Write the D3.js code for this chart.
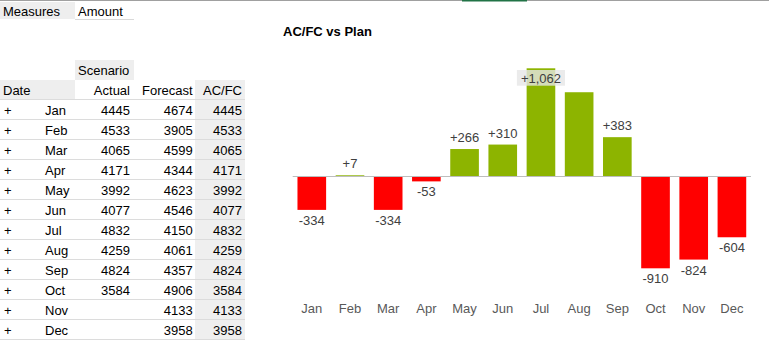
<!DOCTYPE html>
<html>
<head>
<meta charset="utf-8">
<script src="https://cdn.jsdelivr.net/npm/d3@7/dist/d3.min.js"></script>
<style>
  html, body { margin: 0; padding: 0; background: #fff; }
  svg { display: block; font-family: "Liberation Sans", Arial, sans-serif; }
</style>
</head>
<body>
<svg id="chart" width="769" height="345"></svg>
<script>
// ---- data ----
const months   = ["Jan","Feb","Mar","Apr","May","Jun","Jul","Aug","Sep","Oct","Nov","Dec"];
const actual   = [4445, 4533, 4065, 4171, 3992, 4077, 4832, 4259, 4824, 3584, null, null];
const forecast = [4674, 3905, 4599, 4344, 4623, 4546, 4150, 4061, 4357, 4906, 4133, 3958];
const acfc     = [4445, 4533, 4065, 4171, 3992, 4077, 4832, 4259, 4824, 3584, 4133, 3958];
const variance = [-334, 7, -334, -53, 266, 310, 1062, 826, 383, -910, -824, -604];
const hiddenLabels = ["Aug"];
const tableHeaders = ["Actual", "Forecast", "AC/FC"];
const chartTitle = "AC/FC vs Plan";

const svg = d3.select("#chart");

// ---- top border strip ----
svg.append("rect").attr("x", 0).attr("y", 0).attr("width", 769).attr("height", 1).attr("fill", "#a0a0a0");
svg.append("rect").attr("x", 462).attr("y", 0).attr("width", 65).attr("height", 1.5).attr("fill", "#217346");

// ---- table ----
const T = svg.append("g").attr("font-size", 13).attr("fill", "#000");
const rowH = 20, firstRowTop = 100;
const colRight = [130, 192.7, 242];

// backgrounds
T.append("rect").attr("x", 0).attr("y", 2).attr("width", 75).attr("height", 17).attr("fill", "#eeeeee");
T.append("rect").attr("x", 75).attr("y", 60).attr("width", 59).attr("height", 20).attr("fill", "#eeeeee");
T.append("rect").attr("x", 0).attr("y", 80).attr("width", 75).attr("height", 20).attr("fill", "#eeeeee");
T.append("rect").attr("x", 195).attr("y", 80).attr("width", 50).attr("height", rowH * months.length + 20).attr("fill", "#efefef");

T.append("line").attr("x1", 75).attr("x2", 134).attr("y1", 19.5).attr("y2", 19.5).attr("stroke", "#d9d9d9");

T.append("text").attr("x", 3).attr("y", 15.5).text("Measures");
T.append("text").attr("x", 78).attr("y", 15.5).text("Amount");
T.append("text").attr("x", 78).attr("y", 74.5).text("Scenario");
T.append("text").attr("x", 3).attr("y", 94.5).text("Date");
tableHeaders.forEach((h, i) => {
  T.append("text").attr("x", colRight[i]).attr("y", 94.5).attr("text-anchor", "end").text(h);
});

// row separators
d3.range(months.length + 1).forEach(i => {
  T.append("line")
    .attr("x1", 0).attr("x2", 245)
    .attr("y1", firstRowTop + i * rowH - 0.5).attr("y2", firstRowTop + i * rowH - 0.5)
    .attr("stroke", "#dcdcdc");
});

const rows = T.selectAll("g.row").data(months).join("g")
  .attr("class", "row")
  .attr("transform", (d, i) => `translate(0,${firstRowTop + i * rowH + 14.5})`);
rows.append("text").attr("x", 4).text("+");
rows.append("text").attr("x", 45).text(d => d);
[actual, forecast, acfc].forEach((arr, c) => {
  rows.append("text").attr("x", colRight[c]).attr("text-anchor", "end")
    .text((d, i) => arr[i] == null ? "" : arr[i]);
});

// ---- chart ----
svg.append("text").attr("x", 283).attr("y", 36)
  .attr("font-size", 13).attr("font-weight", "bold").attr("fill", "#000")
  .text(chartTitle);

const x = d3.scaleBand().domain(months).range([292.7, 751]).paddingInner(0.25).paddingOuter(0.125);
const y = d3.scaleLinear().domain([d3.min(variance), d3.max(variance)]).range([268.3, 68.3]);
const plotTop = y(d3.max(variance));
const fmt0 = d3.format("+,");
const fmt = v => fmt0(v).replace("\u2212", "-");

const data = months.map((m, i) => ({ m, v: variance[i] }));

svg.append("g").selectAll("rect").data(data).join("rect")
  .attr("x", d => x(d.m))
  .attr("width", x.bandwidth())
  .attr("y", d => y(Math.max(0, d.v)))
  .attr("height", d => Math.max(0.8, Math.abs(y(d.v) - y(0))))
  .attr("fill", d => d.v >= 0 ? "#8db400" : "#ff0000");

svg.append("line")
  .attr("x1", 292.7).attr("x2", 751)
  .attr("y1", y(0) + 0.5).attr("y2", y(0) + 0.5)
  .attr("stroke", "#bdbdbd").attr("stroke-width", 1);

// value labels
const lab = svg.append("g").attr("font-size", 13).attr("fill", "#404040").attr("text-anchor", "middle");
data.filter(d => !hiddenLabels.includes(d.m)).forEach(d => {
  const cx = x(d.m) + x.bandwidth() / 2;
  let ty, boxed = false;
  if (d.v >= 0) {
    ty = y(d.v) - 7;
    if (ty - 10 < plotTop) { ty = plotTop + 14.5; boxed = true; }
  } else {
    ty = y(d.v) + 15;
  }
  const t = lab.append("text").attr("x", cx).attr("y", ty).text(fmt(d.v));
  if (boxed) {
    const bb = t.node().getBBox();
    lab.insert("rect", () => t.node())
      .attr("x", bb.x - 4).attr("y", plotTop + 1.7)
      .attr("width", bb.width + 8).attr("height", 15.7)
      .attr("fill", "#e6e6e6").attr("fill-opacity", 0.8);
  }
});

// x axis labels
svg.append("g").attr("font-size", 13).attr("fill", "#595959").attr("text-anchor", "middle")
  .selectAll("text").data(months).join("text")
  .attr("x", d => x(d) + x.bandwidth() / 2)
  .attr("y", 313)
  .text(d => d);
</script>
</body>
</html>
